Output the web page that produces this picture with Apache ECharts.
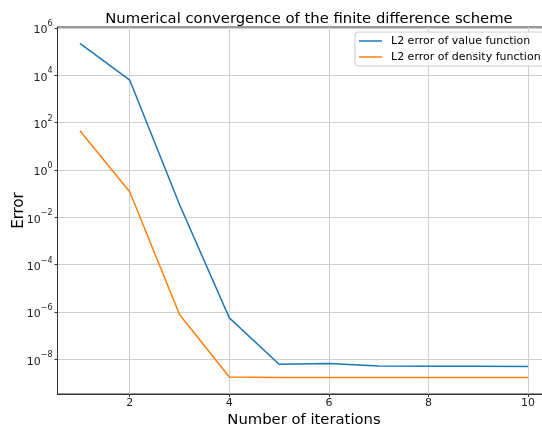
<!DOCTYPE html>
<html>
<head>
<meta charset="utf-8">
<script src="https://cdn.jsdelivr.net/npm/echarts@6/dist/echarts.min.js"></script>
<style>html,body{margin:0;padding:0;background:#fff;}#c{width:542px;height:427px;}</style>
</head>
<body>
<div id="c"></div>
<script>
const iterations = [1, 2, 3, 4, 5, 6, 7, 8, 9, 10];
const valueError = [2.24e5, 6.3e3, 3.5e-2, 5.6e-7, 6.2e-9, 6.6e-9, 5.2e-9, 5.1e-9, 5.1e-9, 5.0e-9];
const densityError = [45.6, 0.12, 7.8e-7, 1.8e-9, 1.7e-9, 1.7e-9, 1.7e-9, 1.7e-9, 1.7e-9, 1.7e-9];
const xTicks = [2, 4, 6, 8, 10];
const yTicks = [1e-8, 1e-6, 1e-4, 1e-2, 1e0, 1e2, 1e4, 1e6];
const seriesNames = ['L2 error of value function', 'L2 error of density function'];

const font = 'DejaVu Sans';
const chart = echarts.init(document.getElementById('c'), null, {renderer: 'canvas'});
function supLabel(v) {
  const e = Math.round(Math.log10(v));
  const s = e < 0 ? '\u2212' + (-e) : String(e);
  return '{b|10}{s|' + s + '}';
}
chart.setOption({
  animation: false,
  backgroundColor: '#fff',
  textStyle: {fontFamily: font},
  title: {
    text: 'Numerical convergence of the finite difference scheme',
    left: 304, top: 7, textAlign: 'center',
    textStyle: {fontFamily: font, fontSize: 14.8, fontWeight: 'normal', color: '#000'}
  },
  legend: {
    data: seriesNames,
    orient: 'vertical',
    left: 355, top: 32,
    padding: [2, 30, 2, 4],
    itemGap: 2,
    itemWidth: 23, itemHeight: 1.5,
    icon: 'rect',
    backgroundColor: 'rgba(255,255,255,0.8)',
    borderColor: '#cccccc', borderWidth: 1, borderRadius: 3,
    textStyle: {fontFamily: font, fontSize: 11, color: '#000', lineHeight: 14, padding: [0, 0, 0, 4]}
  },
  grid: {
    left: 57.5, top: 27, width: 493, height: 367,
    containLabel: false, outerBoundsMode: 'none',
    show: true, borderColor: '#333', borderWidth: 1, backgroundColor: 'transparent'
  },
  xAxis: {
    type: 'value', min: 0.55, max: 10.45,
    name: 'Number of iterations', nameLocation: 'middle', nameGap: 19,
    nameMoveOverlap: false,
    nameTextStyle: {fontFamily: font, fontSize: 14.8, color: '#000'},
    axisLine: {show: true, lineStyle: {color: '#333'}},
    axisTick: {show: true, length: 3, customValues: xTicks, lineStyle: {color: '#333'}},
    axisLabel: {customValues: xTicks, fontFamily: font, fontSize: 11, color: '#222', margin: 4},
    splitLine: {show: true, lineStyle: {color: '#cfcfcf', width: 1}}
  },
  yAxis: {
    type: 'log', logBase: 10, min: Math.pow(10, -9.467), max: Math.pow(10, 6.042),
    name: 'Error', nameLocation: 'middle', nameGap: 31, nameRotate: 90,
    nameMoveOverlap: false,
    nameTextStyle: {fontFamily: font, fontSize: 15, color: '#000'},
    axisLine: {show: true, lineStyle: {color: '#333'}},
    axisTick: {show: true, length: 3, customValues: yTicks, lineStyle: {color: '#333'}},
    axisLabel: {
      customValues: yTicks, margin: 5,
      formatter: supLabel,
      rich: {
        b: {fontFamily: font, fontSize: 11, color: '#222', verticalAlign: 'bottom', lineHeight: 16},
        s: {fontFamily: font, fontSize: 8, color: '#222', verticalAlign: 'top', lineHeight: 16, padding: [0, 0, 7, 0]}
      }
    },
    splitLine: {show: true, lineStyle: {color: '#cfcfcf', width: 1}}
  },
  series: [
    {
      name: seriesNames[0], type: 'line', showSymbol: false, symbol: 'none',
      data: iterations.map((x, i) => [x, valueError[i]]),
      lineStyle: {color: '#1f77b4', width: 1.5}, itemStyle: {color: '#1f77b4'}
    },
    {
      name: seriesNames[1], type: 'line', showSymbol: false, symbol: 'none',
      data: iterations.map((x, i) => [x, densityError[i]]),
      lineStyle: {color: '#ff7f0e', width: 1.5}, itemStyle: {color: '#ff7f0e'}
    }
  ]
});
</script>
</body>
</html>
